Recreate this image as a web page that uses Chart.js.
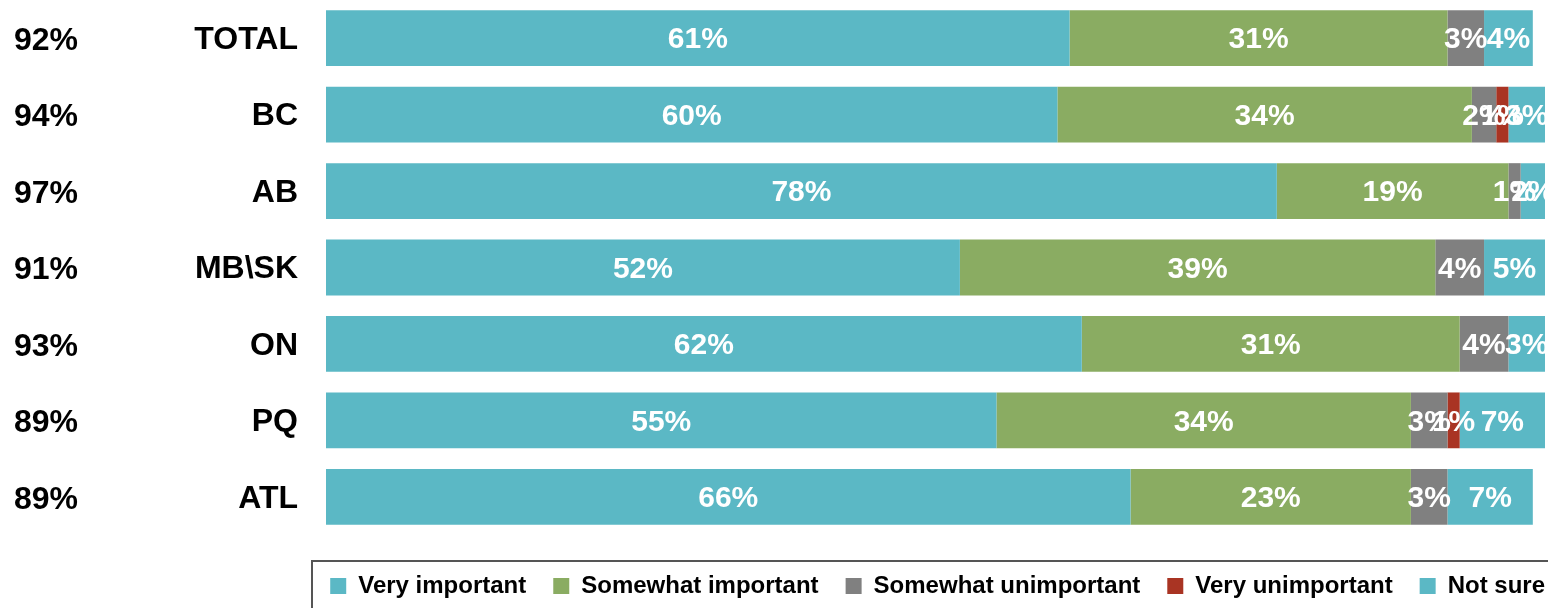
<!DOCTYPE html>
<html>
<head>
<meta charset="utf-8">
<script src="https://cdn.jsdelivr.net/npm/chart.js@4"></script>
<style>
  html, body { margin: 0; padding: 0; background: #fff; }
  #wrap { width: 1548px; height: 608px; position: relative; overflow: hidden; }
</style>
</head>
<body>
<div id="wrap"><canvas id="c"></canvas></div>
<script>
const categories = ['TOTAL', 'BC', 'AB', 'MB\\SK', 'ON', 'PQ', 'ATL'];
const netValues = [92, 94, 97, 91, 93, 89, 89];
const seriesNames = ['Very important', 'Somewhat important', 'Somewhat unimportant', 'Very unimportant', 'Not sure'];
const veryImportant = [61, 60, 78, 52, 62, 55, 66];
const somewhatImportant = [31, 34, 19, 39, 31, 34, 23];
const somewhatUnimportant = [3, 2, 1, 4, 4, 3, 3];
const veryUnimportant = [0, 1, 0, 0, 0, 1, 0];
const notSure = [4, 3, 2, 5, 3, 7, 7];

const colors = ['#5BB8C5', '#8AAC62', '#808080', '#A93423', '#5BB8C5'];
const seriesValues = [veryImportant, somewhatImportant, somewhatUnimportant, veryUnimportant, notSure];

Chart.defaults.font.family = "'Liberation Sans', Arial, sans-serif";
Chart.defaults.font.weight = 'bold';
Chart.defaults.color = '#000';

const barLabels = {
  id: 'barLabels',
  afterDatasetsDraw(chart) {
    const ctx = chart.ctx;
    ctx.save();
    ctx.font = "bold 30px 'Liberation Sans', Arial, sans-serif";
    ctx.fillStyle = '#fff';
    ctx.textAlign = 'center';
    ctx.textBaseline = 'middle';
    chart.data.datasets.forEach((ds, di) => {
      const meta = chart.getDatasetMeta(di);
      meta.data.forEach((el, i) => {
        const v = ds.data[i];
        if (!v) return;
        const p = el.getCenterPoint();
        ctx.fillText(v + '%', p.x, p.y + 2);
      });
    });
    ctx.restore();
  }
};

const legendFrame = {
  id: 'legendFrame',
  afterLayout(chart) {
    const lg = chart.legend;
    const pad = chart.options.plugins.legend.labels.padding;
    lg.left += pad;
    lg.right += pad;
  },
  afterDraw(chart) {
    const lg = chart.legend;
    const ctx = chart.ctx;
    ctx.save();
    ctx.strokeStyle = '#555';
    ctx.lineWidth = 2;
    ctx.strokeRect(312, lg.top + 14, chart.width, 200);
    ctx.restore();
  }
};

function noVerticalPadding(s) {
  s.paddingTop = 0;
  s.paddingBottom = 0;
}

new Chart(document.getElementById('c'), {
  type: 'bar',
  data: {
    labels: categories,
    datasets: seriesNames.map((name, k) => ({
      label: name,
      data: seriesValues[k],
      backgroundColor: colors[k],
      borderWidth: 0,
      categoryPercentage: 1.0,
      barPercentage: 0.73
    }))
  },
  options: {
    indexAxis: 'y',
    responsive: true,
    maintainAspectRatio: false,
    animation: false,
    layout: { padding: { left: 14, right: 3, top: 0, bottom: 0 } },
    scales: {
      x: {
        stacked: true,
        min: 0,
        max: 100,
        display: true,
        ticks: { display: false },
        grid: { display: false, drawTicks: false },
        border: { display: false },
        afterFit(s) { s.height = 12; s.paddingLeft = 0; s.paddingRight = 0; }
      },
      y: {
        stacked: true,
        weight: 0,
        position: 'left',
        grid: { display: false, drawTicks: false },
        border: { display: false },
        ticks: { autoSkip: false, padding: 28, labelOffset: 2, color: '#000', font: { size: 32, weight: 'bold' } },
        afterFit(s) { s.width = 134; noVerticalPadding(s); }
      },
      y2: {
        type: 'category',
        labels: netValues.map(v => v + '%'),
        position: 'left',
        weight: 10,
        offset: true,
        grid: { display: false, drawTicks: false },
        border: { display: false },
        ticks: { autoSkip: false, crossAlign: 'far', padding: 0, labelOffset: 3, color: '#000', font: { size: 32, weight: 'bold' } },
        afterFit(s) { s.width = 178; noVerticalPadding(s); }
      }
    },
    plugins: {
      tooltip: { enabled: false },
      legend: {
        position: 'bottom',
        align: 'end',
        labels: {
          boxWidth: 16,
          boxHeight: 16,
          padding: 27,
          color: '#000',
          font: { size: 24, weight: 'bold' }
        }
      }
    }
  },
  plugins: [barLabels, legendFrame]
});
</script>
</body>
</html>
